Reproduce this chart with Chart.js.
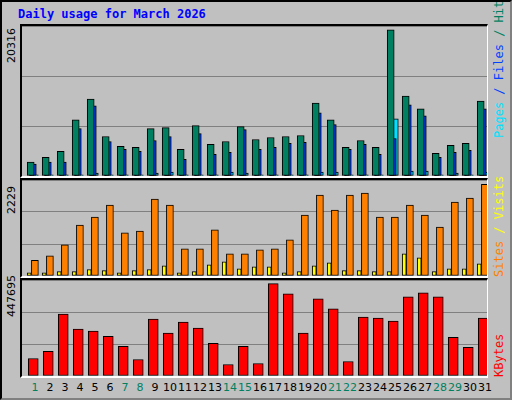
<!DOCTYPE html>
<html><head><meta charset="utf-8">
<script src="https://cdn.jsdelivr.net/npm/chart.js@4/dist/chart.umd.min.js"></script>
<style>
body{margin:0;background:#fff}
#frame{position:absolute;left:0;top:0;width:508px;height:396px;background:#c0c0c0;border:2px solid #000;border-right-color:#808080;border-bottom-color:#808080}
.panel{position:absolute;left:20px;width:468px;box-sizing:border-box;border-top:2px solid #000;border-left:2px solid #000;border-right:1px solid #fff;border-bottom:2px solid #fff}
.panel canvas{display:block}
.lab{position:absolute;font-family:"DejaVu Sans Mono",monospace;font-size:12px;white-space:nowrap;transform-origin:0 0;transform:rotate(-90deg)}
.day{position:absolute;top:381px;font-family:"DejaVu Sans",sans-serif;font-size:11px;width:20px;text-align:center}
</style></head><body>
<div id="frame"></div>
<div class="lab" style="left:18px;top:7px;transform:none;color:#0000ff;font-weight:bold;font-size:12px">Daily usage for March 2026</div>
<div class="panel" style="top:24px;height:154px"><canvas id="c1"></canvas></div>
<div class="panel" style="top:178px;height:100px"><canvas id="c2"></canvas></div>
<div class="panel" style="top:278px;height:100px"><canvas id="c3"></canvas></div>
<div class="lab" style="left:5px;top:63px;font-family:'DejaVu Sans',sans-serif;font-size:11px">20316</div>
<div class="lab" style="left:5px;top:214px;font-family:'DejaVu Sans',sans-serif;font-size:11px">2229</div>
<div class="lab" style="left:5px;top:317px;font-family:'DejaVu Sans',sans-serif;font-size:11px">447695</div>
<div class="lab" style="left:492px;top:138px"><span style="color:#00e0ff">Pages</span><span style="color:#0040ff"> / Files</span><span style="color:#008060"> / Hits</span></div>
<div class="lab" style="left:492px;top:277px"><span style="color:#ff8000">Sites</span><span style="color:#ffff00"> / Visits</span></div>
<div class="lab" style="left:492px;top:377px;color:#ff0000">KBytes</div>
<div id="days"></div>
<script>
const days=[1,2,3,4,5,6,7,8,9,10,11,12,13,14,15,16,17,18,19,20,21,22,23,24,25,26,27,28,29,30,31];
const weekend=[1,7,8,14,15,21,22,28,29];
const hits=[1922,2609,3432,7826,10709,5492,4119,3982,6590,6727,3707,7002,4393,4805,6865,5080,5354,5492,5629,10160,7826,3982,4943,3982,20316,11121,9336,3158,4256,4531,10435];
const files=[1648,1922,1922,6590,9748,4805,3707,3432,4943,5492,2334,5904,3020,3295,6453,3707,3982,4531,4668,8787,7139,3707,4393,3020,5217,9885,8375,2609,3295,3570,9336];
const pages=[150,150,150,150,400,150,150,150,400,550,150,150,150,550,400,150,150,150,150,550,550,150,150,150,7963,700,700,150,400,150,550];
const visits=[80,80,105,105,153,129,80,129,153,249,80,105,274,346,177,225,225,80,105,249,322,129,129,105,105,539,443,105,177,177,298];
const sites=[378,491,756,1239,1432,1722,1046,1094,1867,1722,660,660,1119,539,539,636,660,877,1481,1963,1601,1963,2012,1432,1432,1722,1481,1191,1794,1891,2229];
const kbytes=[84968,119282,300656,227126,217322,192812,143792,80066,276146,207518,261440,232028,158498,55556,143792,60458,447695,398696,207518,374186,325166,70262,285950,281048,266342,383990,403598,383990,187910,138890,281048];

const pts=(arr,off)=>arr.map((v,i)=>({x:days[i]+off,y:v}));
function ds(arr,off,color,w){return {data:pts(arr,off),backgroundColor:color,borderColor:'#000',borderWidth:1,barThickness:w,borderSkipped:false,grouped:false};}
function make(id,w,h,datasets,ymax){
  const c=document.getElementById(id);c.width=w;c.height=h;
  new Chart(c,{type:'bar',data:{datasets},options:{responsive:false,animation:false,
    layout:{padding:0},plugins:{legend:{display:false},tooltip:{enabled:false}},
    scales:{x:{type:'linear',min:0.14,max:31.14,offset:false,display:false,grid:{offset:false}},
      y:{min:0,max:ymax,border:{display:false},ticks:{display:false,stepSize:ymax/3},grid:{color:'#808080',lineWidth:1,drawTicks:false}}}}});
}
make('c1',465,150,[ds(hits,-0.28,'#008060',7),ds(files,-0.14,'#0040ff',7),ds(pages,-0.04,'#00e0ff',8)],20865);
make('c2',465,96,[ds(visits,-0.38,'#ffff00',4),ds(sites,0,'#ff8000',7)],2332);
make('c3',465,96,[ds(kbytes,-0.11,'#ff0000',10)],465300);
const dd=document.getElementById('days');
days.forEach(d=>{const e=document.createElement('div');e.className='day';e.textContent=d;
  e.style.left=(22+(d-0.14)*465/31-10)+'px';e.style.color=weekend.includes(d)?'#008060':'#000';dd.appendChild(e);});
</script></body></html>
